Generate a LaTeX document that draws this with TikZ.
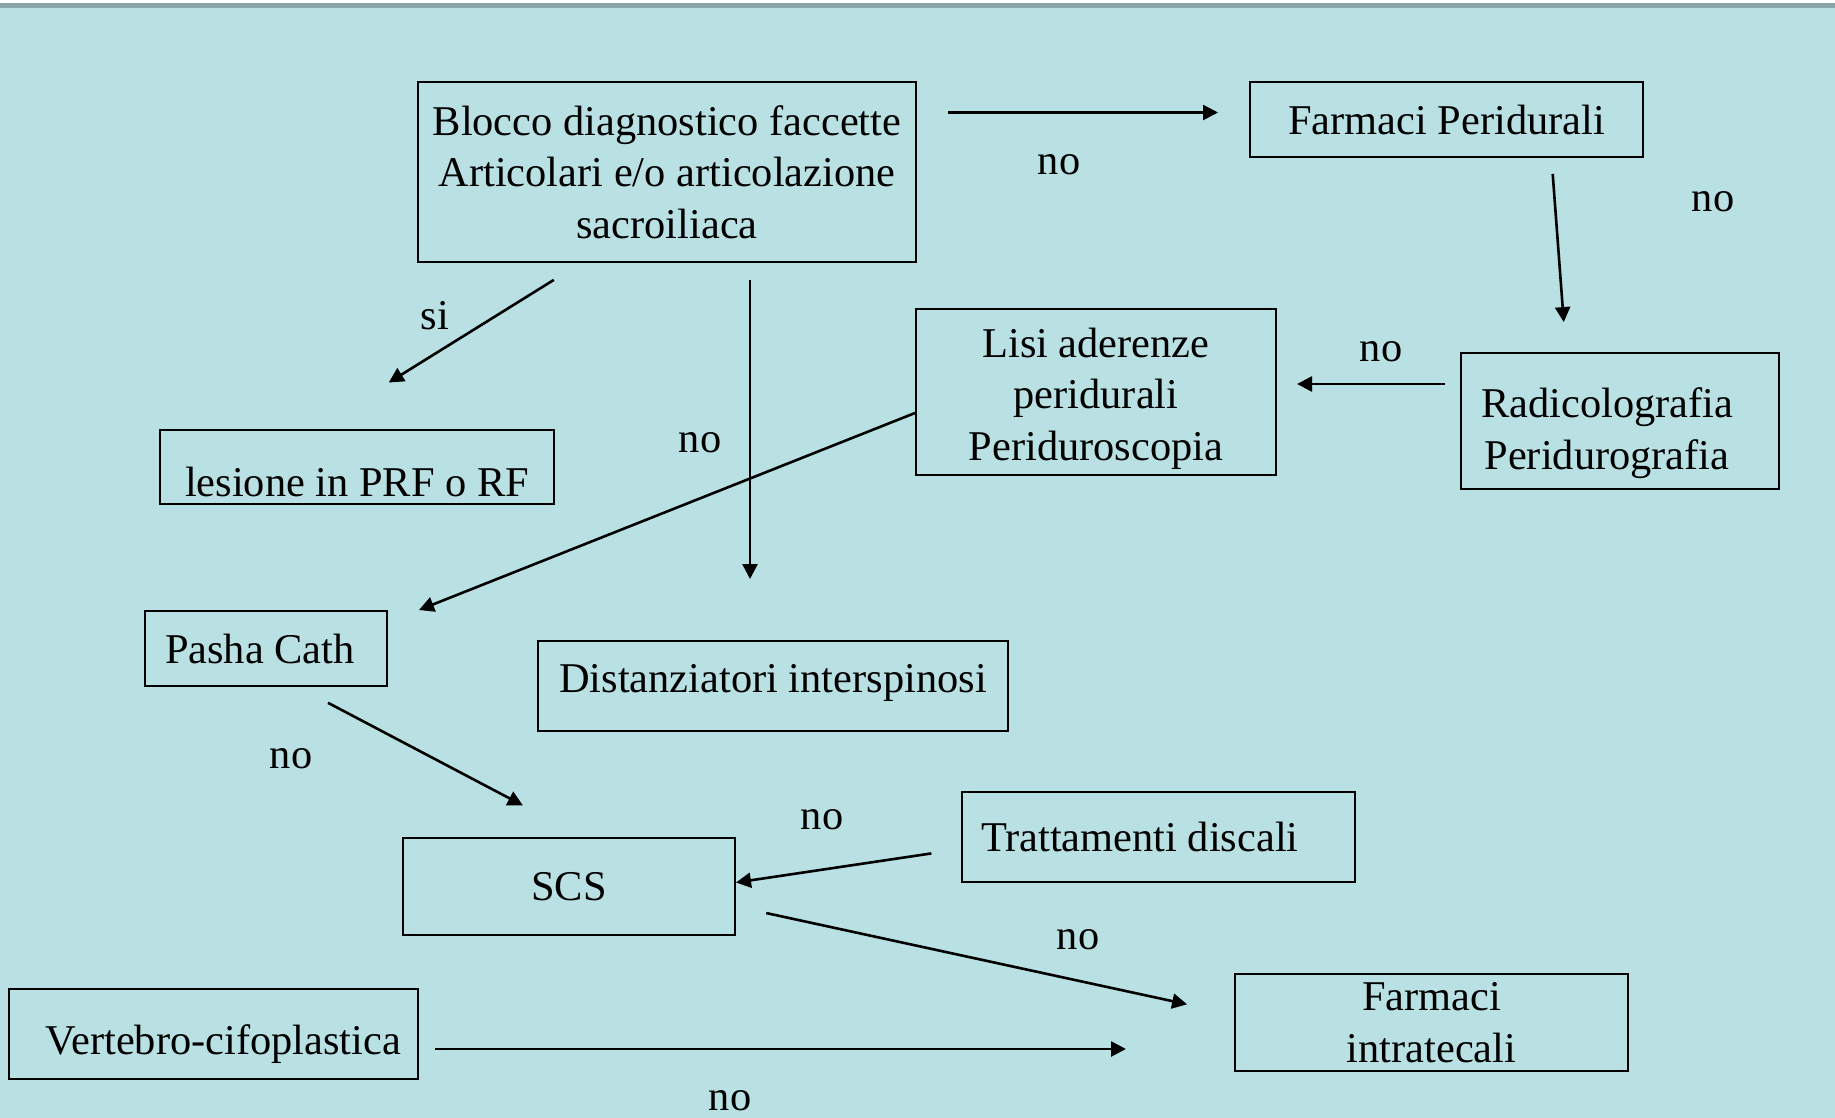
\documentclass[tikz,border=0pt]{standalone}
\usepackage{fontspec}
\setmainfont{Liberation Serif}
\usepackage{tikz}
\usetikzlibrary{arrows.meta,calc}
\definecolor{bgteal}{RGB}{185,224,227}
\definecolor{topgray}{RGB}{138,165,168}
\newcommand{\boxfont}{\fontsize{42.4}{51.5}\selectfont}

\begin{document}
\begin{tikzpicture}[
			x=1pt, y=-1pt,
			box/.style={rectangle, draw=black, line width=2pt, align=center, inner sep=4pt, font=\boxfont},
			arrow/.style={-{Triangle[length=15pt, width=15pt]}, line width=2.6pt},
			lbl/.style={font=\boxfont, inner sep=0pt}
		]
			% background and top rule
			\useasboundingbox (0,0) rectangle (1835,1118);
			\fill[bgteal] (0,0) rectangle (1835,1118);
			\fill[white] (0,0) rectangle (1835,3);
			\fill[topgray] (0,3) rectangle (1835,8.5);

			\node[box, minimum width=498pt, minimum height=180pt] (blocco) at (667,172) {Blocco diagnostico faccette\\Articolari e/o articolazione\\sacroiliaca};
			\node[box, minimum width=393pt, minimum height=75pt] (farm) at (1446.5,119.5) {Farmaci Peridurali};
			\node[box, minimum width=360pt, minimum height=166pt] (lisi) at (1096,392) {\rule{0pt}{43pt}Lisi aderenze\\peridurali\\Periduroscopia};
			\node[box, minimum width=318pt, minimum height=136pt, text width=277pt, align=flush left, inner xsep=20.5pt] (radico) at (1620,421) {\rule{0pt}{54pt}Radicolografia\\\hspace*{3pt}Peridurografia};
			\node[box, minimum width=394pt, minimum height=74pt, text height=58pt, text depth=0pt] (lesione) at (357,467) {lesione in PRF o RF};
			\node[box, minimum width=242pt, minimum height=75pt, text width=202pt, align=flush left, inner xsep=20pt] (pasha) at (266,648.5) {Pasha Cath};
			\node[box, minimum width=470pt, minimum height=90pt, text depth=16pt] (dist) at (773,686) {Distanziatori interspinosi};
			\node[box, minimum width=332pt, minimum height=97pt] (scs) at (569,886.5) {SCS};
			\node[box, minimum width=393pt, minimum height=90pt, text width=355pt, align=flush left, inner xsep=19pt] (tratt) at (1158.5,837) {Trattamenti discali};
			\node[box, minimum width=393pt, minimum height=97pt] (intrat) at (1431.5,1022.5) {Farmaci\\intratecali};
			\node[box, minimum width=409pt, minimum height=90pt, text width=375pt, align=flush right, inner xsep=17pt, text height=50pt] (vert) at (213.5,1034) {Vertebro-cifoplastica};

			% labels
			\node[lbl] (noA) at (1059,164.5) {no};
			\node[lbl] (noB) at (1713,201.5) {no};
			\node[lbl] (noC) at (1381,351.5) {no};
			\node[lbl] (si) at (435,316) {si};
			\node[lbl] (noD) at (700,442.5) {no};
			\node[lbl] (noE) at (291,758.5) {no};
			\node[lbl] (noF) at (822,819.5) {no};
			\node[lbl] (noG) at (1078,939.5) {no};
			\node[lbl] (noH) at (730,1101) {no};

			\draw[arrow, shorten <=31pt, shorten >=31pt] ($(blocco.east |- farm.west)+(0,-7)$) -- ($(farm.west)+(0,-7)$);
			\draw[arrow, shorten <=16pt, shorten >=30pt] ($(farm.south)+(105,0)$) -- ($(radico.north)+(-54,0)$);
			\draw[arrow, shorten <=15pt, shorten >=20pt] ($(lisi.east -| radico.west)+(0,-8)$) -- ($(lisi.east)+(0,-8)$);
			\draw[arrow, shorten <=32pt, shorten >=88pt] ($(blocco.south)+(-86,0)$) -- ($(lesione.north)+(-43,0)$);
			\draw[arrow, shorten <=17pt, shorten >=61pt] ($(blocco.south)+(83,0)$) -- ($(blocco.south |- dist.north)+(83,0)$);
			\draw[arrow] ($(lisi.west)+(0,21)$) -- ($(pasha.north east)+(31,0)$);
			\draw[arrow, shorten <=34pt, shorten >=68pt] ($(pasha.south)+(32,0)$) -- ($(scs.north)+(14,0)$);
			\draw[arrow, shorten <=30pt] ($(tratt.west)+(0,12)$) -- ($(scs.east)+(0,-4)$);
			\draw[arrow, shorten <=31pt, shorten >=48pt] ($(scs.east)+(0,20)$) -- ($(intrat.west)+(0,-8)$);
			\draw[arrow, shorten <=16pt, shorten >=108pt] ($(vert.east)+(0,15)$) -- ($(vert.east -| intrat.west)+(0,15)$);
		\end{tikzpicture}
\end{document}
